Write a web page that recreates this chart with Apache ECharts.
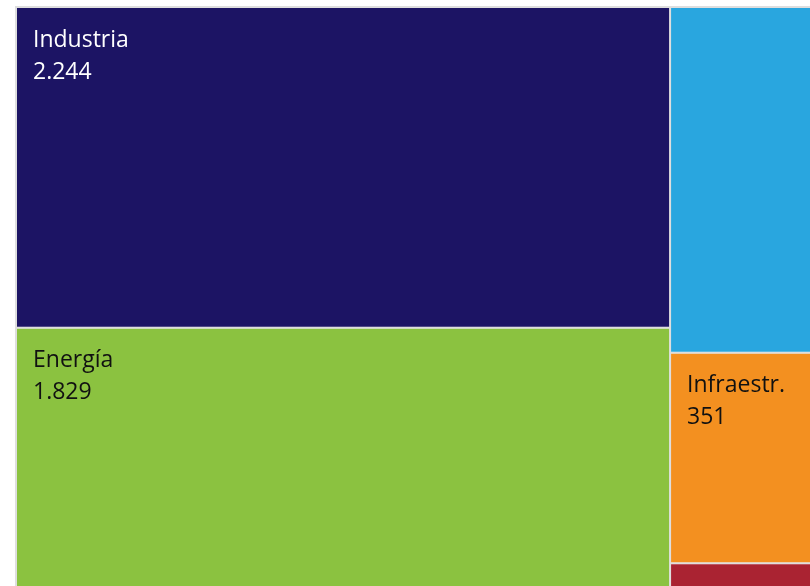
<!DOCTYPE html>
<html>
<head>
<meta charset="utf-8">
<script src="https://cdn.jsdelivr.net/npm/echarts@6/dist/echarts.min.js"></script>
<style>html,body{margin:0;padding:0;background:#fff;overflow:hidden}#c{width:810px;height:586px}</style>
</head>
<body>
<div id="c"></div>
<script>
const names = ['Industria', 'Energía', 'Transporte', 'Infraestr.', 'Otros'];
const values = [2244, 1829, 577, 351, 43];
const colors = ['#1c1464', '#8bc240', '#29a6df', '#f39020', '#aa2332'];
const textColors = ['#ffffff', '#111111', '#ffffff', '#111111', '#ffffff'];
const showLabel = [true, true, false, true, false];

function fmt(v) {
  return String(v).replace(/\B(?=(\d{3})+(?!\d))/g, '.');
}

const data = names.map((n, i) => ({
  name: n,
  value: values[i],
  itemStyle: { color: colors[i], borderWidth: 0 },
  label: { show: showLabel[i], color: textColors[i] }
}));

const chart = echarts.init(document.getElementById('c'));
chart.setOption({
  animation: false,
  series: [{
    type: 'treemap',
    left: 15, top: 6, width: 812, height: 584,
    roam: false,
    nodeClick: false,
    breadcrumb: { show: false },
    levels: [{ itemStyle: { borderColor: '#dedede', color: '#dedede', borderWidth: 2, gapWidth: 2 } }],
    label: {
      show: true,
      position: 'insideTopLeft',
      padding: [16, 16],
      fontFamily: 'Open Sans',
      fontSize: 23,
      lineHeight: 32,
      formatter: p => p.name + '\n' + fmt(p.value)
    },
    data: data
  }]
});
</script>
</body>
</html>
